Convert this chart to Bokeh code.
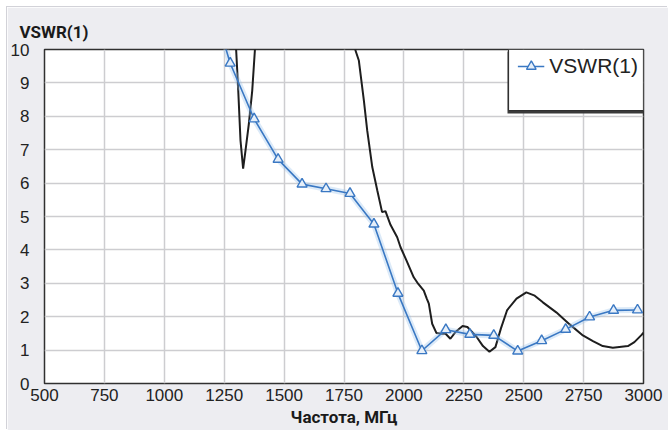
from bokeh.plotting import figure
from bokeh.models import (ColumnDataSource, FixedTicker, Range1d,
                          Legend, LegendItem, BoxAnnotation, Title)
from bokeh.embed import file_html
from bokeh.resources import INLINE

# Measured VSWR (black trace), frequency in MHz
meas_freq = [1290, 1300, 1308, 1318, 1329, 1339, 1353, 1367, 1378, 1386,
             1790, 1798, 1812, 1833, 1847, 1868, 1889, 1909, 1923, 1944,
             1972, 1986, 2011, 2041, 2060, 2083, 2095, 2104, 2118, 2136,
             2160, 2174, 2194, 2215, 2245, 2265, 2303, 2330, 2357, 2382,
             2405, 2431, 2470, 2511, 2546, 2580, 2636, 2692, 2747, 2789,
             2830, 2872, 2935, 2962, 2990, 3000]
meas_vswr = [10.6, 9.97, 8.87, 7.28, 6.43, 6.98, 7.78, 8.77, 9.97, 10.6,
             10.6, 9.97, 9.67, 8.47, 7.57, 6.48, 5.78, 5.13, 5.16, 4.75,
             4.38, 4.08, 3.68, 3.18, 2.98, 2.78, 2.55, 2.39, 1.79, 1.51,
             1.49, 1.49, 1.34, 1.54, 1.72, 1.69, 1.40, 1.12, 0.95, 1.09,
             1.65, 2.20, 2.54, 2.73, 2.63, 2.43, 2.13, 1.77, 1.44, 1.27,
             1.12, 1.07, 1.12, 1.24, 1.44, 1.52]

# Simulated VSWR(1) (blue trace with markers)
sim_freq = [1175, 1275, 1375, 1475, 1575, 1675, 1775, 1875, 1975, 2075,
            2175, 2275, 2375, 2475, 2575, 2675, 2775, 2875, 2975]
sim_vswr = [12.0, 9.59, 7.92, 6.71, 5.97, 5.83, 5.69, 4.77, 2.70, 0.98,
            1.61, 1.47, 1.44, 0.97, 1.28, 1.62, 1.99, 2.19, 2.20]

x_ticks = [500, 750, 1000, 1250, 1500, 1750, 2000, 2250, 2500, 2750, 3000]
y_ticks = [0, 1, 2, 3, 4, 5, 6, 7, 8, 9, 10]
x_title = "Частота, МГц"
y_title = "VSWR(1)"
series_name = "VSWR(1)"

PANEL = "#ededf1"
BLUE = "#3a78c3"
TICK_FONT = "Liberation Sans"
TITLE_FONT = "Roboto"

x0, x1 = x_ticks[0], x_ticks[-1]
y0, y1 = y_ticks[0], y_ticks[-1]

FRAME_W, FRAME_H = 599, 334
p = figure(width=661, height=423, output_backend="svg", toolbar_location=None,
           x_range=Range1d(x0, x1), y_range=Range1d(y0, y1),
           min_border_left=37, min_border_right=25, min_border_top=42,
           min_border_bottom=47, margin=(7, 0, 0, 7),
           styles={"box-shadow": "-1px -1px 0 #d2d2d8"})
p.border_fill_color = PANEL
p.background_fill_color = "white"
p.outline_line_color = "#303030"
p.outline_line_width = 1.5

# y-axis caption sits above the frame, flush left
p.title = Title(text=y_title, align="left", offset=-25, standoff=15,
                text_font=TITLE_FONT, text_font_style="bold", text_font_size="17px",
                text_color="#1a1a1a")

# axes
for ax, ticks in ((p.xaxis, x_ticks), (p.yaxis, y_ticks)):
    ax.ticker = FixedTicker(ticks=ticks)
    ax.axis_line_color = None
    ax.major_tick_line_color = None
    ax.minor_tick_line_color = None
    ax.major_tick_out = 0
    ax.major_tick_in = 0
    ax.major_label_text_font = TICK_FONT
    ax.major_label_text_font_size = "17px"
    ax.major_label_text_color = "#222222"
p.xaxis.major_label_standoff = 5
p.yaxis.major_label_standoff = 15
p.xaxis.axis_label = x_title
p.xaxis.axis_label_standoff = 3
p.xaxis.axis_label_text_font = TITLE_FONT
p.xaxis.axis_label_text_font_style = "bold"
p.xaxis.axis_label_text_font_size = "17px"
p.xaxis.axis_label_text_color = "#1a1a1a"

p.xgrid.ticker = FixedTicker(ticks=x_ticks)
p.ygrid.ticker = FixedTicker(ticks=y_ticks)
for g in (p.xgrid, p.ygrid):
    g.grid_line_color = "#cdcdd0"
    g.grid_line_width = 1.5

# measured trace
p.line(meas_freq, meas_vswr, line_color="#1e1e1e", line_width=2)

# simulated trace with a soft halo
sim = ColumnDataSource(dict(x=sim_freq, y=sim_vswr))
p.line("x", "y", source=sim, line_color="#9cc3ea", line_width=6, line_alpha=0.35)
r_line = p.line("x", "y", source=sim, line_color=BLUE, line_width=1.6)
r_pts = p.scatter("x", "y", source=sim, marker="triangle", size=10,
                  line_color=BLUE, line_width=1.4, fill_color="#e6eff9")

# legend panel (box with a drop shadow) in the top-right corner of the frame
LEG_W, LEG_H = 135, 61
dx = (x1 - x0) / FRAME_W
dy = (y1 - y0) / FRAME_H
p.add_layout(BoxAnnotation(left=x1 - LEG_W * dx - 1 * dx, right=x1, top=y1 - 2 * dy,
                           bottom=y1 - (LEG_H + 3) * dy, fill_color="#3a3a3a",
                           fill_alpha=1, line_color=None))
p.add_layout(BoxAnnotation(left=x1 - LEG_W * dx, right=x1, top=y1, bottom=y1 - LEG_H * dy,
                           fill_color="white", fill_alpha=1, line_color="#303030",
                           line_width=1.2, line_alpha=1))
# borderless legend (no padding), inset from the corner by its margin
legend = Legend(items=[LegendItem(label=series_name, renderers=[r_line, r_pts])],
                location="top_right", margin=5, padding=0, glyph_width=27,
                glyph_height=24, label_height=24, label_standoff=5,
                label_text_font=TICK_FONT, label_text_font_size="21px",
                label_text_color="#222222",
                background_fill_alpha=0, border_line_color=None)
p.add_layout(legend)

open("out.html", "w").write(file_html(p, INLINE))
